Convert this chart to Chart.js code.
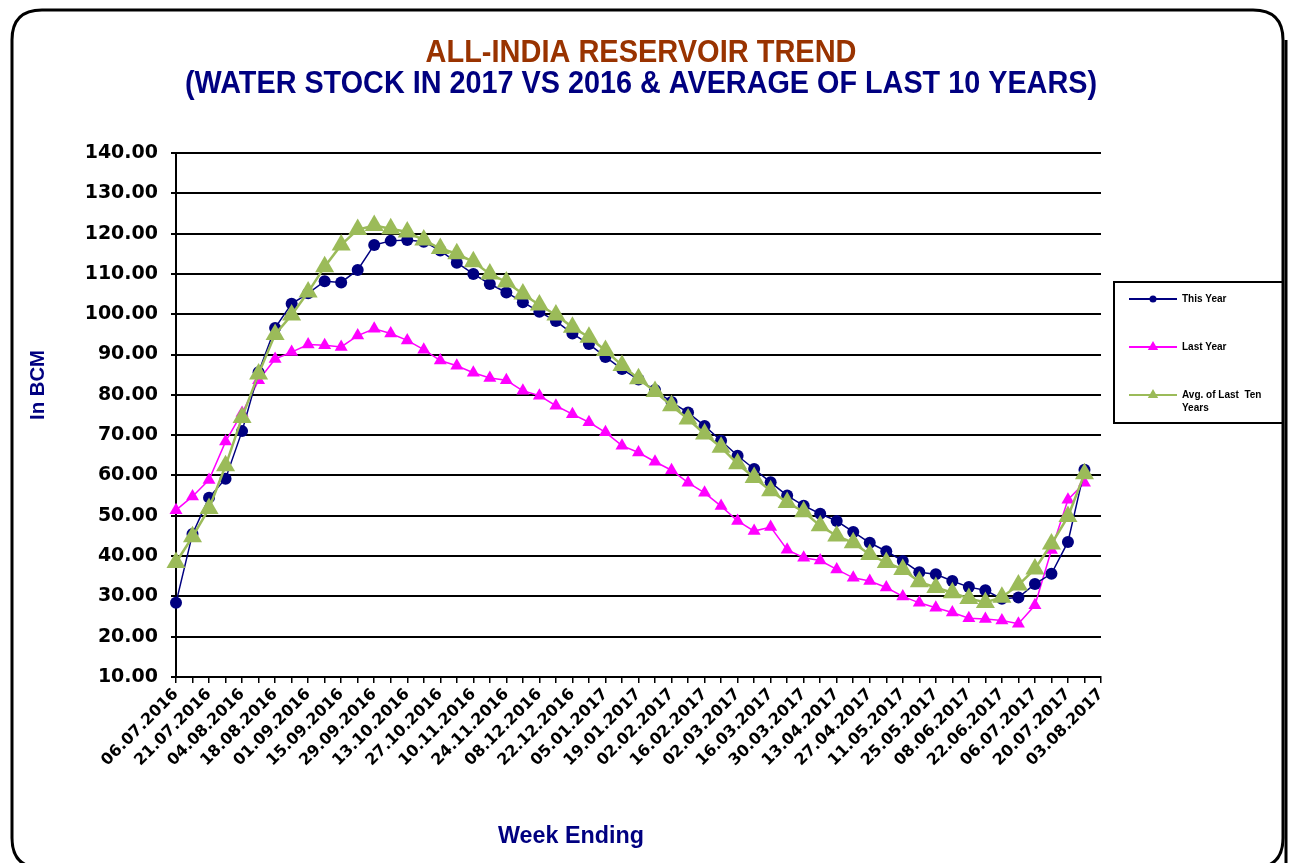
<!DOCTYPE html>
<html>
<head>
<meta charset="utf-8">
<title>All-India Reservoir Trend</title>
<script src="https://cdn.jsdelivr.net/npm/chart.js@4.4.1/dist/chart.umd.min.js"></script>
<style>
  html, body { margin: 0; padding: 0; background: #fff; }
  canvas { display: block; }
</style>
</head>
<body>
<canvas id="chart" width="1291" height="863"></canvas>
<script>
// Semanas (fecha de cierre). La última categoría queda sin datos, como en el original.
const weekLabels = [
  '06.07.2016', '14.07.2016', '21.07.2016', '28.07.2016', '04.08.2016', '11.08.2016',
  '18.08.2016', '25.08.2016', '01.09.2016', '08.09.2016', '15.09.2016', '22.09.2016',
  '29.09.2016', '06.10.2016', '13.10.2016', '20.10.2016', '27.10.2016', '03.11.2016',
  '10.11.2016', '17.11.2016', '24.11.2016', '01.12.2016', '08.12.2016', '15.12.2016',
  '22.12.2016', '29.12.2016', '05.01.2017', '12.01.2017', '19.01.2017', '26.01.2017',
  '02.02.2017', '09.02.2017', '16.02.2017', '23.02.2017', '02.03.2017', '09.03.2017',
  '16.03.2017', '23.03.2017', '30.03.2017', '06.04.2017', '13.04.2017', '20.04.2017',
  '27.04.2017', '04.05.2017', '11.05.2017', '18.05.2017', '25.05.2017', '01.06.2017',
  '08.06.2017', '15.06.2017', '22.06.2017', '29.06.2017', '06.07.2017', '13.07.2017',
  '20.07.2017', '27.07.2017', '03.08.2017',
];

// Stock en BCM
const thisYear = [
  28.4, 45.5, 54.5, 59.2, 71.0, 85.6, 96.6, 102.6, 105.2, 108.2,
  107.9, 111.0, 117.2, 118.2, 118.4, 118.0, 115.8, 112.8, 110.0, 107.5,
  105.4, 103.0, 100.6, 98.3, 95.2, 92.6, 89.4, 86.4, 83.8, 81.2,
  78.2, 75.6, 72.3, 68.6, 64.9, 61.6, 58.3, 55.0, 52.5, 50.5,
  48.7, 46.0, 43.3, 41.2, 38.8, 36.0, 35.5, 33.8, 32.3, 31.5,
  29.4, 29.7, 33.1, 35.6, 43.5, 61.4,
];
const lastYear = [
  51.4, 54.8, 58.9, 68.4, 75.5, 83.6, 88.9, 90.6, 92.5, 92.3,
  91.9, 94.7, 96.4, 95.2, 93.5, 91.2, 88.5, 87.2, 85.5, 84.2,
  83.6, 81.0, 79.8, 77.3, 75.2, 73.2, 70.7, 67.4, 65.7, 63.4,
  61.3, 58.2, 55.7, 52.4, 48.7, 46.2, 47.2, 41.6, 39.6, 38.9,
  36.7, 34.6, 33.8, 32.2, 30.0, 28.4, 27.2, 26.0, 24.6, 24.4,
  24.0, 23.2, 27.8, 41.5, 54.0, 58.2,
];
const avgTenYears = [
  38.4, 44.8, 51.8, 62.4, 74.4, 85.2, 95.0, 99.8, 105.5, 111.8,
  117.2, 121.0, 122.0, 121.2, 120.4, 118.4, 116.3, 115.0, 113.0, 110.0,
  108.0, 105.0, 102.3, 99.8, 96.8, 94.3, 91.0, 87.3, 84.0, 80.8,
  77.3, 74.0, 70.3, 67.0, 62.9, 59.5, 56.2, 53.3, 51.0, 47.5,
  45.0, 43.3, 40.4, 38.4, 36.7, 33.6, 32.2, 30.9, 29.5, 28.5,
  29.8, 32.8, 36.8, 43.0, 49.8, 60.4,
];

const seriesNames = ['This Year', 'Last Year', 'Avg. of Last  Ten Years'];
const yMin = 10;
const yMax = 140;
const yStep = 10;

const COLOR = {
  thisYear: '#000080',
  lastYear: '#ff00ff',
  avg: '#9bbb59',
  title: '#993300',
  navy: '#000080',
};

// Texto ajustado a un ancho dado (escala horizontal), centrado en cx
function fitText(ctx, text, cx, y, width, font, color, rot) {
  ctx.save();
  ctx.font = font;
  ctx.fillStyle = color;
  ctx.textAlign = 'center';
  ctx.textBaseline = rot ? 'middle' : 'alphabetic';
  const natural = ctx.measureText(text).width;
  ctx.translate(cx, y);
  if (rot) ctx.rotate(rot);
  ctx.scale(width / natural, 1);
  ctx.fillText(text, 0, 0);
  ctx.restore();
}

function roundRect(ctx, x, y, w, h, r) {
  ctx.beginPath();
  ctx.moveTo(x + r, y);
  ctx.lineTo(x + w - r, y);
  ctx.quadraticCurveTo(x + w, y, x + w, y + r);
  ctx.lineTo(x + w, y + h - r);
  ctx.quadraticCurveTo(x + w, y + h, x + w - r, y + h);
  ctx.lineTo(x + r, y + h);
  ctx.quadraticCurveTo(x, y + h, x, y + h - r);
  ctx.lineTo(x, y + r);
  ctx.quadraticCurveTo(x, y, x + r, y);
  ctx.closePath();
}

// Marco, títulos y leyenda tipo Excel
const decor = {
  id: 'decor',
  beforeDraw(chart) {
    const ctx = chart.ctx;
    ctx.save();
    ctx.fillStyle = '#fff';
    ctx.fillRect(0, 0, chart.width, chart.height);
    ctx.strokeStyle = '#000';
    ctx.lineWidth = 3;
    roundRect(ctx, 12, 10, 1271, 858, 30);
    ctx.stroke();
    // sombra derecha
    ctx.beginPath();
    ctx.moveTo(1286, 40);
    ctx.lineTo(1286, 863);
    ctx.stroke();
    ctx.restore();
  },
  afterDraw(chart) {
    const ctx = chart.ctx;
    fitText(ctx, 'ALL-INDIA RESERVOIR TREND', 641, 62, 431, 'bold 31px "Liberation Sans", Arial', COLOR.title);
    fitText(ctx, '(WATER STOCK IN 2017 VS 2016 & AVERAGE OF LAST 10 YEARS)', 641, 93, 912,
      'bold 31px "Liberation Sans", Arial', COLOR.navy);
    fitText(ctx, 'In BCM', 38, 385, 70, 'bold 20px "Liberation Sans", Arial', COLOR.navy, -Math.PI / 2);
    fitText(ctx, 'Week Ending', 571, 843, 146, 'bold 23px "Liberation Sans", Arial', COLOR.navy);

    // Leyenda
    ctx.save();
    ctx.strokeStyle = '#000';
    ctx.lineWidth = 2;
    ctx.strokeRect(1114, 282, 169, 141);
    const rows = [299, 347, 395];
    chart.data.datasets.forEach((ds, i) => {
      const y = rows[i];
      ctx.strokeStyle = ds.borderColor;
      ctx.lineWidth = 2;
      ctx.beginPath();
      ctx.moveTo(1129, y);
      ctx.lineTo(1177, y);
      ctx.stroke();
      Chart.helpers.drawPoint(ctx, {
        pointStyle: ds.pointStyle, radius: ds.pointStyle === 'circle' ? 2.5 : 4,
        rotation: 0, borderWidth: 1,
      }, 1153, y);
      ctx.fillStyle = ds.borderColor;
      ctx.fill();
      ctx.fillStyle = '#000';
      ctx.font = 'bold 10px "Liberation Sans", Arial';
      ctx.textAlign = 'left';
      ctx.textBaseline = 'middle';
      const words = ds.label.split(' ');
      let line = '';
      let ly = y;
      words.forEach((w) => {
        const test = line ? line + ' ' + w : w;
        if (line && ctx.measureText(test).width > 92) {
          ctx.fillText(line, 1182, ly);
          line = w;
          ly += 13;
        } else {
          line = test;
        }
      });
      ctx.fillText(line, 1182, ly);
    });
    ctx.restore();
  },
};

new Chart(document.getElementById('chart'), {
  type: 'line',
  data: {
    labels: weekLabels,
    datasets: [
      {
        label: seriesNames[0],
        data: thisYear,
        borderColor: COLOR.thisYear,
        backgroundColor: COLOR.thisYear,
        borderWidth: 1.5,
        pointStyle: 'circle',
        pointRadius: 6,
        pointBorderWidth: 0,
        order: 1,
        clip: false,
      },
      {
        label: seriesNames[1],
        data: lastYear,
        borderColor: COLOR.lastYear,
        backgroundColor: COLOR.lastYear,
        borderWidth: 1.5,
        pointStyle: 'triangle',
        pointRadius: 7.5,
        pointBorderWidth: 0,
        order: 2,
        clip: false,
      },
      {
        label: seriesNames[2],
        data: avgTenYears,
        borderColor: COLOR.avg,
        backgroundColor: COLOR.avg,
        borderWidth: 2.5,
        pointStyle: 'triangle',
        pointRadius: 11,
        pointBorderWidth: 0,
        order: 0,
        clip: false,
      },
    ],
  },
  options: {
    responsive: false,
    animation: false,
    devicePixelRatio: 1,
    layout: { padding: { left: 20, top: 153, right: 190, bottom: 0 } },
    elements: { line: { tension: 0 } },
    plugins: {
      legend: { display: false },
      title: { display: false },
      tooltip: { enabled: false },
    },
    scales: {
      x: {
        offset: false,
        grid: { drawOnChartArea: false, drawTicks: true, tickLength: 6, color: '#000', lineWidth: 1.5 },
        border: { display: true, color: '#000', width: 2 },
        ticks: {
          autoSkip: false,
          maxRotation: 45,
          minRotation: 45,
          padding: 2,
          color: '#000',
          font: { family: '"DejaVu Sans"', size: 16, weight: 'bold' },
          callback(value, index) { return index % 2 === 0 ? this.getLabelForValue(value) : ''; },
        },
        afterFit(scale) { scale.height = 186; },
      },
      y: {
        min: yMin,
        max: yMax,
        grid: { color: '#000', lineWidth: 2, tickLength: 5 },
        border: { display: true, color: '#000', width: 2 },
        ticks: {
          stepSize: yStep,
          padding: 13,
          color: '#000',
          font: { family: '"DejaVu Sans"', size: 19, weight: 'bold' },
          callback: (v) => Number(v).toFixed(2),
        },
        afterFit(scale) { scale.width = 156; },
      },
    },
  },
  plugins: [decor],
});
</script>
</body>
</html>
